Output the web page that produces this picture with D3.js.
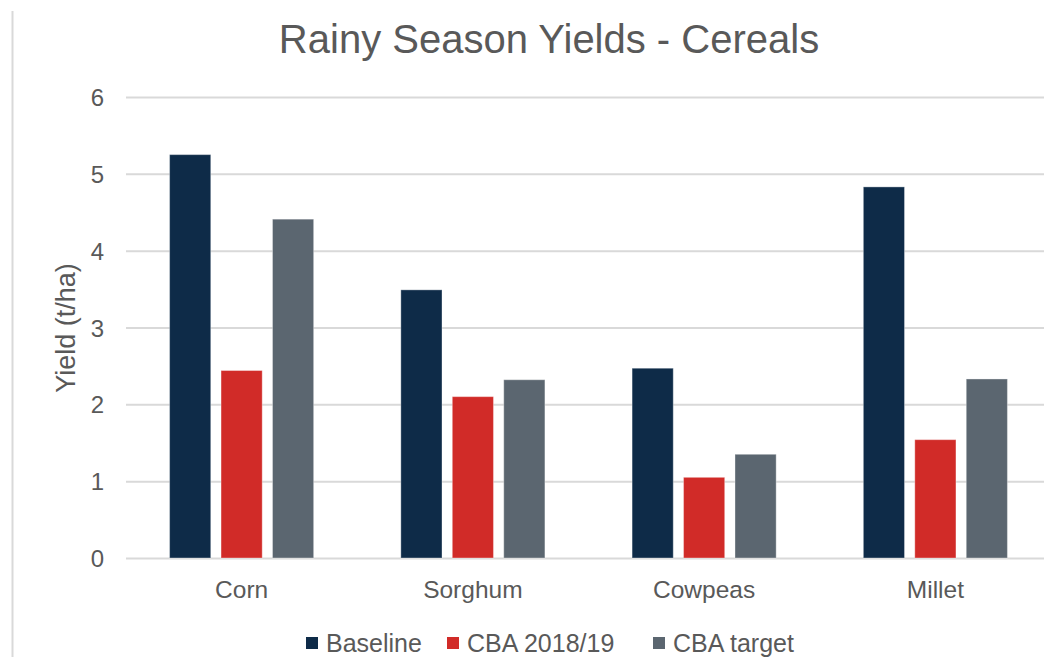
<!DOCTYPE html>
<html>
<head>
<meta charset="utf-8">
<script src="https://cdn.jsdelivr.net/npm/d3@7"></script>
<style>
  html, body { margin: 0; padding: 0; background: #ffffff; }
  svg { display: block; }
  text { font-family: "Liberation Sans", Arial, sans-serif; fill: #595959; }
</style>
</head>
<body>
<svg id="chart" width="1044" height="657"></svg>
<script>
// Yield data (t/ha) per crop, for each series
const categories = ["Corn", "Sorghum", "Cowpeas", "Millet"];
const seriesNames = ["Baseline", "CBA 2018/19", "CBA target"];
const baseline = [5.25, 3.49, 2.47, 4.83];
const cba201819 = [2.44, 2.10, 1.05, 1.54];
const cbaTarget = [4.41, 2.32, 1.35, 2.33];
const yTicks = [0, 1, 2, 3, 4, 5, 6];

const seriesValues = [baseline, cba201819, cbaTarget];
const colors = ["#0e2b48", "#d12b28", "#5b6670"];

const svg = d3.select("#chart");
const W = 1044, H = 657;

const plot = { left: 126, right: 1051, top: 97, bottom: 558 };

// frame line on the left edge
svg.append("line")
  .attr("x1", 12.5).attr("x2", 12.5)
  .attr("y1", 11).attr("y2", H)
  .attr("stroke", "#d9d9d9").attr("stroke-width", 2);

const y = d3.scaleLinear().domain([0, 6]).range([plot.bottom, plot.top]);

const x0 = d3.scaleBand()
  .domain(categories)
  .range([plot.left, plot.right])
  .paddingInner(0.377)
  .paddingOuter(0.1885);

const x1 = d3.scaleBand()
  .domain(seriesNames)
  .range([0, x0.bandwidth()])
  .paddingInner(0.2)
  .paddingOuter(0);

// gridlines and value labels
const yAxis = d3.axisLeft(y)
  .tickValues(yTicks)
  .tickSize(-(W - plot.left))
  .tickPadding(22)
  .tickFormat(d3.format("d"));

const gAxis = svg.append("g")
  .attr("transform", `translate(${plot.left},0)`)
  .call(yAxis);
gAxis.select(".domain").remove();
gAxis.selectAll(".tick line")
  .attr("stroke", "#d9d9d9")
  .attr("stroke-width", 2);
gAxis.selectAll(".tick text")
  .attr("fill", "#595959")
  .style("font-size", "24px")
  .attr("dy", "0.36em");

// bars
const rows = categories.map((c, i) => ({
  cat: c,
  vals: seriesNames.map((s, j) => ({ s, j, v: seriesValues[j][i] }))
}));

const groups = svg.append("g").selectAll("g")
  .data(rows)
  .join("g")
  .attr("transform", d => `translate(${x0(d.cat)},0)`);

groups.selectAll("rect")
  .data(d => d.vals)
  .join("rect")
  .attr("x", d => x1(d.s))
  .attr("width", x1.bandwidth())
  .attr("y", d => y(d.v))
  .attr("height", d => y(0) - y(d.v))
  .attr("fill", d => colors[d.j])
  .attr("stroke", "#ffffff")
  .attr("stroke-opacity", 0.35)
  .attr("stroke-width", 1);

// category labels
svg.append("g").selectAll("text")
  .data(categories)
  .join("text")
  .attr("x", d => x0(d) + x0.bandwidth() / 2)
  .attr("y", 598)
  .attr("text-anchor", "middle")
  .style("font-size", "24.5px")
  .text(d => d);

// title
svg.append("text")
  .attr("x", 549)
  .attr("y", 53)
  .attr("text-anchor", "middle")
  .style("font-size", "40px")
  .text("Rainy Season Yields - Cereals");

// y-axis title
svg.append("text")
  .attr("transform", "translate(75,328) rotate(-90)")
  .attr("text-anchor", "middle")
  .style("font-size", "27px")
  .text("Yield (t/ha)");

// legend
const legend = svg.append("g");
const legendX = [306, 447, 653];
seriesNames.forEach((s, j) => {
  legend.append("rect")
    .attr("x", legendX[j]).attr("y", 637)
    .attr("width", 12).attr("height", 12)
    .attr("fill", colors[j]);
  legend.append("text")
    .attr("x", legendX[j] + 20).attr("y", 652)
    .style("font-size", "25px")
    .text(s);
});
</script>
</body>
</html>
